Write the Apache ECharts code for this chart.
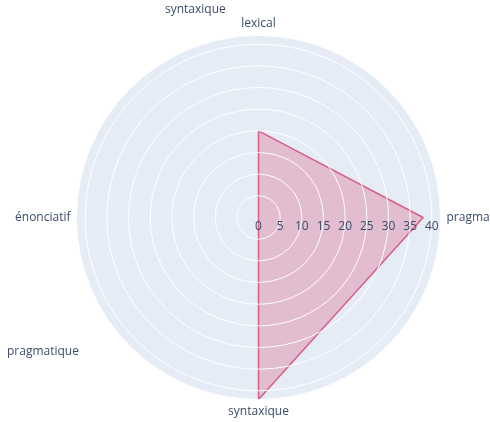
<!DOCTYPE html>
<html>
<head>
<meta charset="utf-8">
<script src="https://cdn.jsdelivr.net/npm/echarts@6/dist/echarts.min.js"></script>
<style>
html,body{margin:0;padding:0;background:#fff;}
#chart{width:490px;height:422px;}
</style>
</head>
<body>
<div id="chart"></div>
<script>
// Data (Plotly-style polar chart, clockwise from top)
var categories = ['lexical', 'pragmatique', 'syntaxique', 'énonciatif'];
var values = [20, 38, 42, 0];
var radialTicks = [0, 5, 10, 15, 20, 25, 30, 35, 40];
var radialMax = 42;
var extraLabels = ['syntaxique', 'pragmatique'];

var FONT = '"Open Sans", "Noto Sans", sans-serif';
var TEXT = '#3b4d6b';

// category i sits at angle-axis value (270 + 90*i) mod 360 (top, right, bottom, left)
function catAngle(i) { return (270 + 90 * i) % 360; }
var angleToName = {};
categories.forEach(function (c, i) { angleToName[catAngle(i)] = c; });

var seriesData = categories.map(function (c, i) { return [values[i], catAngle(i)]; });
seriesData.push([values[0], catAngle(0)]); // close the polygon

var chart = echarts.init(document.getElementById('chart'), null, {renderer: 'canvas'});
chart.setOption({
  animation: false,
  backgroundColor: '#ffffff',
  polar: { center: [258.5, 217.5], radius: 182 },
  angleAxis: {
    type: 'value', min: 0, max: 360, interval: 90,
    startAngle: 0, clockwise: true,
    axisLine: { show: false },
    axisTick: { show: false },
    axisLabel: {
      margin: 6, color: TEXT, fontFamily: FONT, fontSize: 12,
      formatter: function (v) { return v === 360 ? '' : (angleToName[v] || ''); }
    },
    splitLine: { show: true, lineStyle: { color: '#ffffff', width: 1 } },
    splitArea: { show: true, areaStyle: { color: ['#E5ECF6'] } }
  },
  radiusAxis: {
    type: 'value', min: 0, max: radialMax, interval: 5,
    axisLine: { show: false },
    axisTick: { show: false },
    axisLabel: {
      color: TEXT, fontFamily: FONT, fontSize: 12,
      margin: -3, verticalAlign: 'top',
      showMaxLabel: false,
      formatter: function (v) { return radialTicks.indexOf(v) >= 0 ? String(v) : ''; }
    },
    splitLine: { show: true, lineStyle: { color: '#ffffff', width: 1 } },
    z: 10
  },
  series: [{
    type: 'line',
    coordinateSystem: 'polar',
    data: seriesData,
    symbol: 'none',
    lineStyle: { color: 'rgb(215,95,135)', width: 1.5 },
    areaStyle: { color: 'rgba(220,112,146,0.55)' },
    z: 2
  }],
  graphic: [
    { type: 'text', left: 165, top: 4, style: { text: extraLabels[0], fill: TEXT, font: '12px ' + FONT } },
    { type: 'text', left: 7, top: 346, style: { text: extraLabels[1], fill: TEXT, font: '12px ' + FONT } }
  ]
});
</script>
</body>
</html>
